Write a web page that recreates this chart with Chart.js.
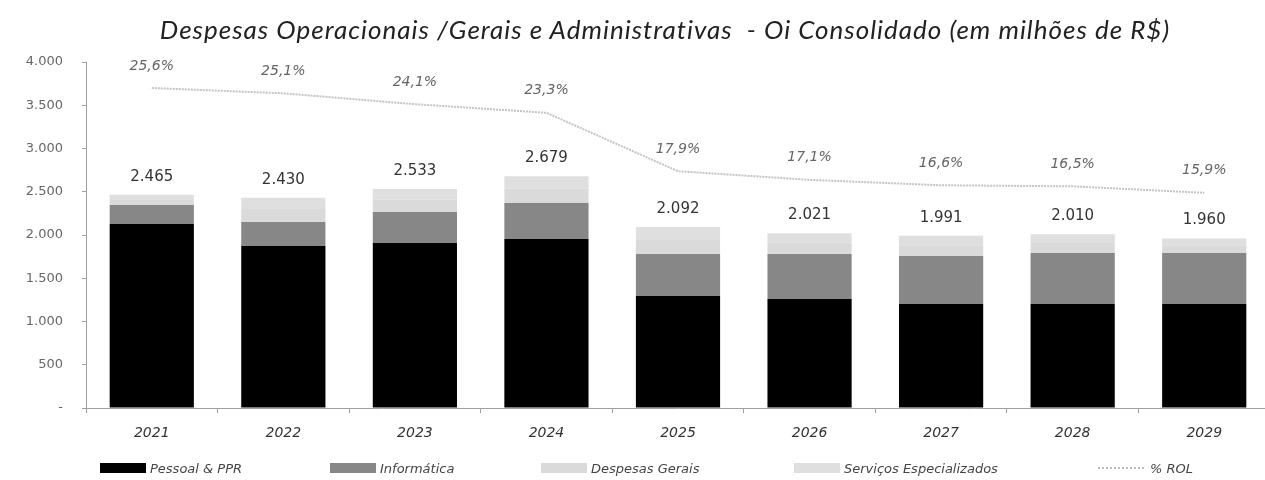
<!DOCTYPE html>
<html>
<head>
<meta charset="utf-8">
<script src="https://cdn.jsdelivr.net/npm/chart.js@4.4.1/dist/chart.umd.min.js"></script>
<style>
  html, body { margin: 0; padding: 0; background: #fff; overflow: hidden; }
  #wrap { position: relative; width: 1272px; height: 480px; }
  #title {
    position: absolute; left: 0; width: 1330px; top: 13px; text-align: center;
    font: italic 26px Lato, "Open Sans", sans-serif; color: #222; letter-spacing: 1px;
  }
  #legend { position: absolute; top: 460px; left: 0; width: 1272px; height: 20px; }
  .lg { position: absolute; top: 0; display: flex; align-items: center; height: 16px;
        font: italic 13px "DejaVu Sans", sans-serif; color: #444; white-space: nowrap; }
  .sw { display: inline-block; width: 46px; height: 10px; margin-right: 4px; }
  .ln { display: inline-block; width: 46px; height: 0; border-top: 2px dotted #bdbdbd; margin-right: 6px; }
</style>
</head>
<body>
<div id="wrap">
  <canvas id="chart" width="1272" height="480"></canvas>
  <div id="title">Despesas Operacionais /Gerais e Administrativas&nbsp; - Oi Consolidado (em milhões de R$)</div>
  <div id="legend"></div>
</div>
<script>
// Anos e valores (R$ milhões)
const years = ['2021', '2022', '2023', '2024', '2025', '2026', '2027', '2028', '2029'];
const pessoal = [2127, 1873, 1908, 1955, 1295, 1260, 1202, 1202, 1202];
const informatica = [220, 277, 358, 415, 485, 520, 555, 590, 590];
const despesasGerais = [65, 150, 145, 165, 170, 130, 125, 115, 90];
const servicos = [53, 130, 122, 144, 142, 111, 109, 103, 78];
const rolPct = [25.6, 25.1, 24.1, 23.3, 17.9, 17.1, 16.6, 16.5, 15.9];
const yTicks = [0, 500, 1000, 1500, 2000, 2500, 3000, 3500, 4000];

const seriesNames = ['Pessoal & PPR', 'Informática', 'Despesas Gerais', 'Serviços Especializados', '% ROL'];
const colors = ['#000000', '#878787', '#dadada', '#dfdfdf', '#c4c4c4'];

// left edge of each legend entry
const legendLeft = [100, 330, 541, 794, 1098];

const numFont = '"DejaVu Sans", sans-serif';
const fmtInt = v => v.toLocaleString('de-DE');
const fmtPct = v => v.toFixed(1).replace('.', ',') + '%';

// Labels: total above each stack, % ROL above the line
const labelPlugin = {
    id: 'valueLabels',
    afterDatasetsDraw(chart) {
        const ctx = chart.ctx;
        const yScale = chart.scales.y;
        const barMeta = chart.getDatasetMeta(0);
        const lineMeta = chart.getDatasetMeta(4);
        ctx.save();
        ctx.textAlign = 'center';
        ctx.textBaseline = 'middle';
        years.forEach((yr, i) => {
            const total = pessoal[i] + informatica[i] + despesasGerais[i] + servicos[i];
            const x = barMeta.data[i].x;
            ctx.font = '15px ' + numFont;
            ctx.fillStyle = '#333';
            ctx.fillText(fmtInt(total), x, yScale.getPixelForValue(total) - 18);

            const pt = lineMeta.data[i];
            ctx.font = 'italic 14px ' + numFont;
            ctx.fillStyle = '#666';
            ctx.fillText(fmtPct(rolPct[i]), pt.x, pt.y - 22);
        });
        ctx.restore();
    }
};

const barDs = (idx, data) => ({
    type: 'bar',
    label: seriesNames[idx],
    data: data,
    backgroundColor: colors[idx],
    stack: 'total',
    yAxisID: 'y',
    barPercentage: 0.64,
    categoryPercentage: 1,
    order: 2
});

const chart = new Chart(document.getElementById('chart'), {
    data: {
        labels: years,
        datasets: [
            barDs(0, pessoal),
            barDs(1, informatica),
            barDs(2, despesasGerais),
            barDs(3, servicos),
            {
                type: 'line',
                label: seriesNames[4],
                data: rolPct,
                yAxisID: 'y2',
                borderColor: colors[4],
                borderWidth: 2,
                borderDash: [2, 1],
                pointRadius: 0,
                tension: 0,
                order: 1
            }
        ]
    },
    options: {
        responsive: false,
        animation: false,
        layout: { padding: { top: 62, left: 0, right: 2, bottom: 32 } },
        plugins: {
            legend: { display: false },
            title: { display: false },
            tooltip: { enabled: false }
        },
        scales: {
            x: {
                stacked: true,
                offset: true,
                grid: { display: true, drawOnChartArea: false, color: '#a0a0a0', tickLength: 5 },
                border: { color: '#a0a0a0', width: 1 },
                ticks: {
                    color: '#333',
                    font: { family: numFont, size: 14, style: 'italic' },
                    padding: 12
                },
                afterFit(scale) { scale.height = 40; }
            },
            y: {
                stacked: true,
                min: 0,
                max: 4000,
                afterBuildTicks(scale) { scale.ticks = yTicks.map(v => ({ value: v })); },
                grid: { display: true, drawOnChartArea: false, color: '#a0a0a0', tickLength: 4 },
                border: { color: '#a0a0a0', width: 1 },
                ticks: {
                    color: '#666',
                    font: { family: numFont, size: 13 },
                    padding: 19,
                    callback: v => v === 0 ? '-' : fmtInt(v)
                },
                afterFit(scale) { scale.width = 86; }
            },
            y2: {
                display: false,
                min: -4,
                max: 28
            }
        }
    },
    plugins: [labelPlugin]
});

// Legend row
const legend = document.getElementById('legend');
seriesNames.forEach((name, i) => {
    const item = document.createElement('div');
    item.className = 'lg';
    item.style.left = legendLeft[i] + 'px';
    const mark = document.createElement('span');
    if (i === 4) {
        mark.className = 'ln';
    } else {
        mark.className = 'sw';
        mark.style.background = colors[i];
    }
    item.appendChild(mark);
    item.appendChild(document.createTextNode(name));
    legend.appendChild(item);
});
</script>
</body>
</html>
